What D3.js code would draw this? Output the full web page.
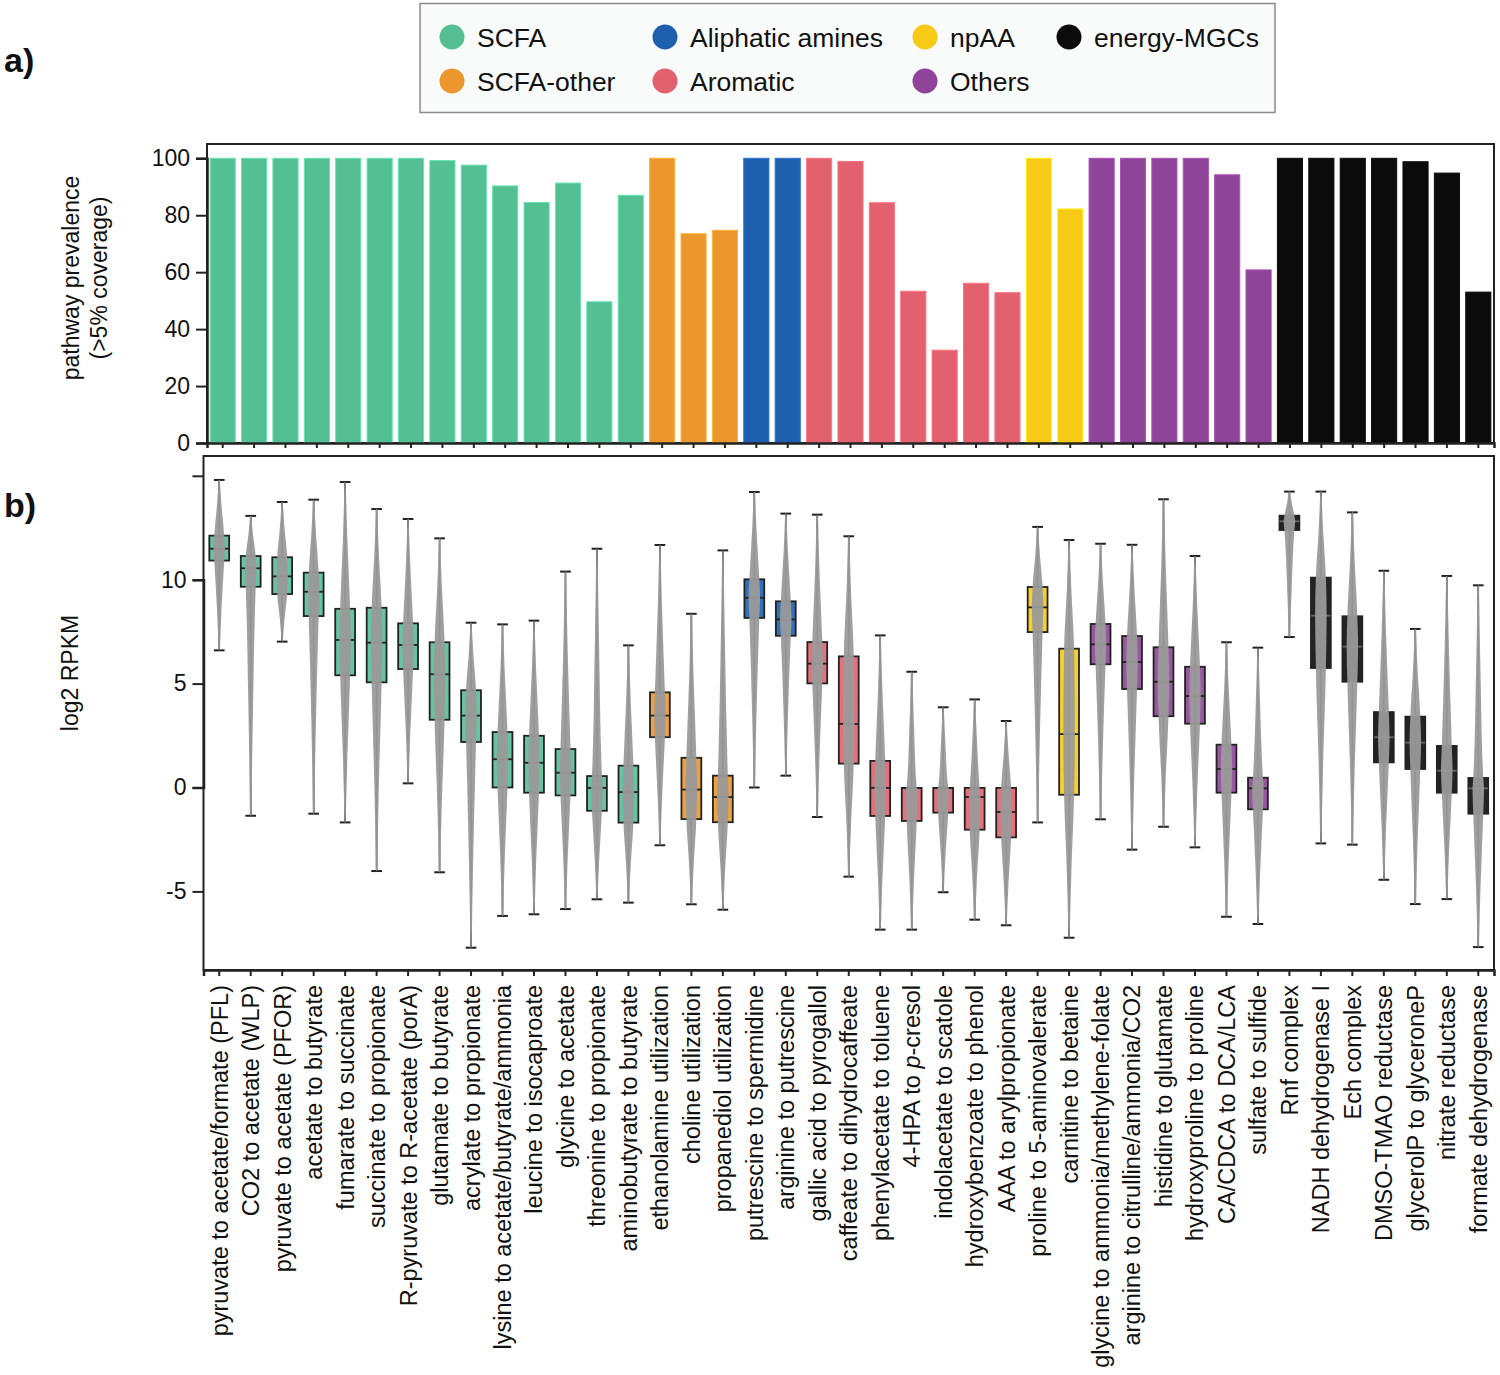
<!DOCTYPE html>
<html>
<head>
<meta charset="utf-8">
<script src="https://cdn.jsdelivr.net/npm/d3@7"></script>
<style>
  html, body { margin: 0; padding: 0; background: #fff; }
  svg text { font-family: "Liberation Sans", Arial, Helvetica, sans-serif; fill: #111; }
</style>
</head>
<body>
<svg id="chart" width="1500" height="1375"></svg>
<script>
// ---------------- DATA ----------------
const groupNames = ["SCFA", "SCFA-other", "Aliphatic amines", "Aromatic", "npAA", "Others", "energy-MGCs"];
const groupColors = ["#55bf94", "#ec972d", "#1e60ad", "#e3606e", "#f7ca15", "#8e4498", "#0b0b0c"];

const pathways = [
  "pyruvate to acetate/formate (PFL)", "CO2 to acetate (WLP)", "pyruvate to acetate (PFOR)",
  "acetate to butyrate", "fumarate to succinate", "succinate to propionate",
  "R-pyruvate to R-acetate (porA)", "glutamate to butyrate", "acrylate to propionate",
  "lysine to acetate/butyrate/ammonia", "leucine to isocaproate", "glycine to acetate",
  "threonine to propionate", "aminobutyrate to butyrate",
  "ethanolamine utilization", "choline utilization", "propanediol utilization",
  "putrescine to spermidine", "arginine to putrescine",
  "gallic acid to pyrogallol", "caffeate to dihydrocaffeate", "phenylacetate to toluene",
  "4-HPA to p-cresol", "indolacetate to scatole", "hydroxybenzoate to phenol", "AAA to arylpropionate",
  "proline to 5-aminovalerate", "carnitine to betaine",
  "glycine to ammonia/methylene-folate", "arginine to citrulline/ammonia/CO2", "histidine to glutamate",
  "hydroxyproline to proline", "CA/CDCA to DCA/LCA", "sulfate to sulfide",
  "Rnf complex", "NADH dehydrogenase I", "Ech complex", "DMSO-TMAO reductase",
  "glycerolP to glyceroneP", "nitrate reductase", "formate dehydrogenase"
];
const pathwayGroup = [
  0,0,0,0,0,0,0,0,0,0,0,0,0,0,
  1,1,1,
  2,2,
  3,3,3,3,3,3,3,
  4,4,
  5,5,5,5,5,5,
  6,6,6,6,6,6,6
];

// pathway prevalence (>5% coverage), %
const prevalence = [
  100,100,100,100,100,100,100,99.2,97.6,90.3,84.5,91.3,49.6,87,
  100,73.5,74.7,
  100,100,
  100,98.9,84.4,53.3,32.6,56.1,52.8,
  100,82.2,
  100,100,100,100,94.2,60.8,
  100,100,100,100,98.8,94.8,53
];

// log2 RPKM box statistics
const whiskerLow = [
  6.6,-1.36,7.02,-1.26,-1.68,-4.02,0.2,-4.08,-7.71,-6.18,-6.1,-5.85,-5.38,-5.54,
  -2.78,-5.62,-5.88,
  0,0.57,
  -1.42,-4.29,-6.84,-6.84,-5.04,-6.36,-6.63,
  -1.68,-7.23,
  -1.53,-2.99,-1.89,-2.88,-6.22,-6.57,
  7.24,-2.69,-2.75,-4.44,-5.61,-5.37,-7.68
];
const q1 = [
  10.92,9.66,9.31,8.25,5.4,5.06,5.7,3.26,2.19,0,-0.25,-0.38,-1.12,-1.69,
  2.42,-1.52,-1.67,
  8.16,7.3,
  5.01,1.15,-1.37,-1.61,-1.21,-2.03,-2.4,
  7.48,-0.35,
  5.93,4.74,3.43,3.07,-0.25,-1.05,
  12.39,5.75,5.09,1.21,0.89,-0.25,-1.26
];
const median = [
  11.49,10.55,10.16,9.42,7.1,6.97,6.86,5.45,3.46,1.36,1.19,0.71,-0.02,-0.22,
  3.46,-0.1,-0.46,
  9.13,8.09,
  5.96,3.06,-0.02,-0.02,-0.02,-0.46,-1.18,
  8.67,2.57,
  6.89,6.04,5.09,4.4,0.89,-0.04,
  12.81,8.27,6.78,2.42,2.16,0.81,-0.04
];
const q3 = [
  12.12,11.14,11.08,10.34,8.6,8.65,7.9,6.99,4.68,2.67,2.49,1.85,0.55,1.05,
  4.58,1.43,0.57,
  10.02,8.96,
  7.0,6.31,1.28,-0.02,-0.02,-0.02,-0.02,
  9.65,6.68,
  7.87,7.29,6.75,5.81,2.06,0.47,
  13.08,10.1,8.24,3.63,3.41,2.0,0.46
];
const whiskerHigh = [
  14.8,13.07,13.74,13.85,14.7,13.4,12.92,11.99,7.93,7.85,8.03,10.39,11.49,6.84,
  11.67,8.36,11.41,
  14.22,13.18,
  13.13,12.09,7.32,5.57,3.86,4.24,3.2,
  12.54,11.91,
  11.73,11.68,13.87,11.14,6.99,6.73,
  14.24,14.24,13.24,10.43,7.63,10.18,9.73
];

const prevTicks = [0, 20, 40, 60, 80, 100];
const rpkmTicks = [-5, 0, 5, 10, 15];
const rpkmTickLabels = ["-5", "0", "5", "10", ""];

// ---------------- DRAW ----------------
const svg = d3.select("#chart");
const FONT = 23;

// panel labels
svg.append("text").attr("x", 4).attr("y", 72).attr("font-size", 34).attr("font-weight", "bold").text("a)");
svg.append("text").attr("x", 4).attr("y", 517).attr("font-size", 34).attr("font-weight", "bold").text("b)");

// legend
const legend = svg.append("g");
legend.append("rect").attr("x", 420).attr("y", 3.5).attr("width", 855).attr("height", 109)
  .attr("fill", "#f9fafa").attr("stroke", "#8a8a8a").attr("stroke-width", 1.5);
const legendPos = [
  [452, 37], [452, 81], [665, 37], [665, 81], [925, 37], [925, 81], [1069, 37]
];
groupNames.forEach((g, i) => {
  const [lx, ly] = legendPos[i];
  legend.append("circle").attr("cx", lx).attr("cy", ly).attr("r", 12.5).attr("fill", groupColors[i]);
  legend.append("text").attr("x", lx + 25).attr("y", ly).attr("dy", "0.36em")
    .attr("font-size", 26.5).text(g);
});

// ---------- Panel a ----------
const aLeft = 207, aRight = 1494, aTop = 144, aBottom = 443;
const xA = d3.scaleBand().domain(pathways).range([aLeft, aRight]).paddingInner(0.2).paddingOuter(0.1);
const yA = d3.scaleLinear().domain([0, 100]).range([aBottom, 158.3]);

const gA = svg.append("g");
// frame
gA.append("rect").attr("x", aLeft).attr("y", aTop).attr("width", aRight - aLeft).attr("height", aBottom - aTop)
  .attr("fill", "none").attr("stroke", "#222").attr("stroke-width", 2);

gA.selectAll("rect.bar").data(pathways).join("rect").attr("class", "bar")
  .attr("x", d => xA(d))
  .attr("width", xA.bandwidth())
  .attr("y", (d, i) => yA(prevalence[i]))
  .attr("height", (d, i) => yA(0) - yA(prevalence[i]))
  .attr("fill", (d, i) => groupColors[pathwayGroup[i]])
  .attr("stroke", (d, i) => d3.color(groupColors[pathwayGroup[i]]).brighter(0.5))
  .attr("stroke-width", 1);

// y axis
const axA = gA.append("g").attr("transform", `translate(${aLeft},0)`)
  .call(d3.axisLeft(yA).tickValues(prevTicks).tickSize(11).tickPadding(6));
axA.select(".domain").attr("stroke", "#222").attr("stroke-width", 2.5);
axA.selectAll(".tick line").attr("stroke", "#222").attr("stroke-width", 2);
axA.selectAll(".tick text").attr("font-size", FONT).attr("fill", "#111")
  .attr("font-family", "Liberation Sans, Arial, sans-serif");

// x axis ticks (no labels)
const axAx = gA.append("g").attr("transform", `translate(0,${aBottom})`)
  .call(d3.axisBottom(xA).tickSize(5).tickFormat(""));
axAx.select(".domain").attr("stroke", "#222").attr("stroke-width", 2.5);
axAx.selectAll(".tick line").attr("stroke", "#222").attr("stroke-width", 2);

// y title
const tA = svg.append("text").attr("transform", `translate(79,278) rotate(-90)`)
  .attr("text-anchor", "middle").attr("font-size", FONT);
tA.append("tspan").attr("x", 0).attr("dy", 0).text("pathway prevalence");
tA.append("tspan").attr("x", 0).attr("dy", 28).text("(>5% coverage)");

// ---------- Panel b ----------
const bLeft = 203.5, bRight = 1494, bTop = 456, bBottom = 970;
const xB = d3.scaleBand().domain(pathways).range([bLeft, bRight]).paddingInner(0).paddingOuter(0);
const yB = d3.scaleLinear().domain([0, 10]).range([787.5, 579.7]);
const step = xB.step();
const boxW = step * 0.63;
const capW = step * 0.34;

const gB = svg.append("g");
gB.append("rect").attr("x", bLeft).attr("y", bTop).attr("width", bRight - bLeft).attr("height", bBottom - bTop)
  .attr("fill", "none").attr("stroke", "#222").attr("stroke-width", 2);

const cx = d => xB(d) + step / 2;

const items = gB.selectAll("g.item").data(pathways).join("g").attr("class", "item");

// whisker line
items.append("line")
  .attr("x1", d => cx(d)).attr("x2", d => cx(d))
  .attr("y1", (d, i) => yB(whiskerHigh[i])).attr("y2", (d, i) => yB(whiskerLow[i]))
  .attr("stroke", "#222").attr("stroke-width", 1.6);
// caps
items.append("line")
  .attr("x1", d => cx(d) - capW / 2).attr("x2", d => cx(d) + capW / 2)
  .attr("y1", (d, i) => yB(whiskerHigh[i])).attr("y2", (d, i) => yB(whiskerHigh[i]))
  .attr("stroke", "#222").attr("stroke-width", 2);
items.append("line")
  .attr("x1", d => cx(d) - capW / 2).attr("x2", d => cx(d) + capW / 2)
  .attr("y1", (d, i) => yB(whiskerLow[i])).attr("y2", (d, i) => yB(whiskerLow[i]))
  .attr("stroke", "#222").attr("stroke-width", 2);
// box
items.append("rect")
  .attr("x", d => cx(d) - boxW / 2).attr("width", boxW)
  .attr("y", (d, i) => yB(q3[i]))
  .attr("height", (d, i) => Math.max(1, yB(q1[i]) - yB(q3[i])))
  .attr("fill", (d, i) => groupColors[pathwayGroup[i]])
  .attr("fill-opacity", 0.9)
  .attr("stroke", "#222").attr("stroke-width", 1.8);
// median
items.append("line")
  .attr("x1", d => cx(d) - boxW / 2).attr("x2", d => cx(d) + boxW / 2)
  .attr("y1", (d, i) => yB(median[i])).attr("y2", (d, i) => yB(median[i]))
  .attr("stroke", (d, i) => pathwayGroup[i] === 6 ? "#666" : "#222").attr("stroke-width", 1.8);

// sample cloud (density envelope from the box statistics)
const cloudArea = d3.area()
  .y(p => yB(p.v))
  .x0(p => p.c - p.w / 2)
  .x1(p => p.c + p.w / 2)
  .curve(d3.curveMonotoneY);
items.append("path")
  .attr("d", (d, i) => {
    const c = cx(d);
    const pts = [
      { v: whiskerHigh[i], w: 1.2, c },
      { v: q3[i] + (whiskerHigh[i] - q3[i]) * 0.55, w: 4.5, c },
      { v: q3[i], w: 10, c },
      { v: median[i], w: 11.5, c },
      { v: q1[i], w: 10, c },
      { v: q1[i] - (q1[i] - whiskerLow[i]) * 0.55, w: 4.5, c },
      { v: whiskerLow[i], w: 1.2, c }
    ].sort((a, b) => b.v - a.v);
    return cloudArea(pts);
  })
  .attr("fill", "#9a9a9a").attr("fill-opacity", 0.95);

// y axis
const axB = gB.append("g").attr("transform", `translate(${bLeft},0)`)
  .call(d3.axisLeft(yB).tickValues(rpkmTicks).tickFormat((d, i) => rpkmTickLabels[i]).tickSize(11).tickPadding(6));
axB.select(".domain").attr("stroke", "#222").attr("stroke-width", 2.5);
axB.selectAll(".tick line").attr("stroke", "#222").attr("stroke-width", 2);
axB.selectAll(".tick text").attr("font-size", FONT).attr("fill", "#111")
  .attr("font-family", "Liberation Sans, Arial, sans-serif");

// x axis with rotated labels
const axBx = gB.append("g").attr("transform", `translate(0,${bBottom})`)
  .call(d3.axisBottom(xB).tickSize(6).tickPadding(9));
axBx.select(".domain").attr("stroke", "#222").attr("stroke-width", 2.5);
axBx.selectAll(".tick line").attr("stroke", "#222").attr("stroke-width", 2);
axBx.selectAll(".tick text")
  .attr("font-size", 23.5).attr("fill", "#111")
  .attr("font-family", "Liberation Sans, Arial, sans-serif")
  .attr("text-anchor", "end")
  .attr("transform", "rotate(-90)")
  .attr("x", -15).attr("y", 0).attr("dy", "0.36em")
  .each(function(d) {
    if (d === "4-HPA to p-cresol") {
      const t = d3.select(this);
      t.text("");
      t.append("tspan").text("4-HPA to ");
      t.append("tspan").attr("font-style", "italic").text("p");
      t.append("tspan").text("-cresol");
    }
  });

// y title
svg.append("text").attr("transform", `translate(78,${673}) rotate(-90)`)
  .attr("text-anchor", "middle").attr("font-size", FONT).text("log2 RPKM");
</script>
</body>
</html>
